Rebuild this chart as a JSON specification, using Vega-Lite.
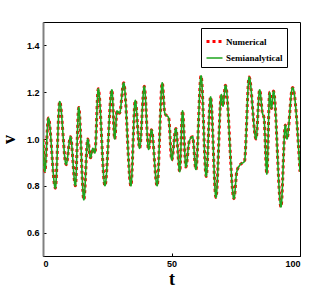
{
  "$schema": "https://vega.github.io/schema/vega-lite/v6.json",
  "width": 257,
  "height": 234,
  "autosize": "none",
  "padding": {"left": 43, "top": 22, "right": 31, "bottom": 34},
  "background": "white",
  "config": {
    "view": {"stroke": "black", "strokeWidth": 1},
    "axis": {
      "grid": false,
      "labelFont": "Liberation Sans",
      "labelFontWeight": "bold",
      "labelFontSize": 9,
      "labelColor": "black",
      "tickColor": "black",
      "tickSize": -3,
      "domainColor": "black",
      "titleFont": "Liberation Serif",
      "titleFontWeight": "bold",
      "titleColor": "black"
    }
  },
  "data": {
    "values": [
      {"t": 0, "Numerical": 1.0, "Semianalytical": 1.0},
      {"t": 0.7, "Numerical": 0.86, "Semianalytical": 0.86},
      {"t": 2.1, "Numerical": 1.09, "Semianalytical": 1.09},
      {"t": 4.8, "Numerical": 0.79, "Semianalytical": 0.79},
      {"t": 6.5, "Numerical": 1.16, "Semianalytical": 1.16},
      {"t": 9.0, "Numerical": 0.89, "Semianalytical": 0.89},
      {"t": 10.7, "Numerical": 1.01, "Semianalytical": 1.01},
      {"t": 12.6, "Numerical": 0.80, "Semianalytical": 0.80},
      {"t": 13.9, "Numerical": 1.135, "Semianalytical": 1.135},
      {"t": 15.9, "Numerical": 0.74, "Semianalytical": 0.74},
      {"t": 17.4, "Numerical": 1.0, "Semianalytical": 1.0},
      {"t": 18.5, "Numerical": 0.92, "Semianalytical": 0.92},
      {"t": 19.4, "Numerical": 0.96, "Semianalytical": 0.96},
      {"t": 20.2, "Numerical": 0.94, "Semianalytical": 0.94},
      {"t": 21.5, "Numerical": 1.215, "Semianalytical": 1.215},
      {"t": 24.1, "Numerical": 0.80, "Semianalytical": 0.80},
      {"t": 26.8, "Numerical": 1.21, "Semianalytical": 1.21},
      {"t": 27.9, "Numerical": 1.0, "Semianalytical": 1.0},
      {"t": 28.8, "Numerical": 1.12, "Semianalytical": 1.12},
      {"t": 29.8, "Numerical": 1.11, "Semianalytical": 1.11},
      {"t": 31.4, "Numerical": 1.24, "Semianalytical": 1.24},
      {"t": 34.2, "Numerical": 0.80, "Semianalytical": 0.80},
      {"t": 35.9, "Numerical": 1.165, "Semianalytical": 1.165},
      {"t": 37.6, "Numerical": 0.96, "Semianalytical": 0.96},
      {"t": 39.4, "Numerical": 1.225, "Semianalytical": 1.225},
      {"t": 41.1, "Numerical": 0.955, "Semianalytical": 0.955},
      {"t": 42.2, "Numerical": 1.04, "Semianalytical": 1.04},
      {"t": 44.4, "Numerical": 0.80, "Semianalytical": 0.80},
      {"t": 46.4, "Numerical": 1.24, "Semianalytical": 1.24},
      {"t": 47.4, "Numerical": 1.11, "Semianalytical": 1.11},
      {"t": 48.9, "Numerical": 1.09, "Semianalytical": 1.09},
      {"t": 50.1, "Numerical": 0.91, "Semianalytical": 0.91},
      {"t": 51.7, "Numerical": 1.045, "Semianalytical": 1.045},
      {"t": 53.2, "Numerical": 0.86, "Semianalytical": 0.86},
      {"t": 54.3, "Numerical": 1.12, "Semianalytical": 1.12},
      {"t": 55.6, "Numerical": 0.88, "Semianalytical": 0.88},
      {"t": 56.9, "Numerical": 0.99, "Semianalytical": 0.99},
      {"t": 58.2, "Numerical": 1.01, "Semianalytical": 1.01},
      {"t": 59.5, "Numerical": 0.87, "Semianalytical": 0.87},
      {"t": 61.5, "Numerical": 1.27, "Semianalytical": 1.27},
      {"t": 63.5, "Numerical": 0.84, "Semianalytical": 0.84},
      {"t": 65.2, "Numerical": 1.18, "Semianalytical": 1.18},
      {"t": 67.3, "Numerical": 0.75, "Semianalytical": 0.75},
      {"t": 69.4, "Numerical": 1.19, "Semianalytical": 1.19},
      {"t": 70.0, "Numerical": 1.14, "Semianalytical": 1.14},
      {"t": 71.0, "Numerical": 1.23, "Semianalytical": 1.23},
      {"t": 74.3, "Numerical": 0.745, "Semianalytical": 0.745},
      {"t": 75.4, "Numerical": 0.86, "Semianalytical": 0.86},
      {"t": 76.7, "Numerical": 0.89, "Semianalytical": 0.89},
      {"t": 78.4, "Numerical": 0.905, "Semianalytical": 0.905},
      {"t": 80.2, "Numerical": 1.265, "Semianalytical": 1.265},
      {"t": 82.9, "Numerical": 1.0, "Semianalytical": 1.0},
      {"t": 84.3, "Numerical": 1.21, "Semianalytical": 1.21},
      {"t": 85.4, "Numerical": 1.11, "Semianalytical": 1.11},
      {"t": 86.0, "Numerical": 1.09, "Semianalytical": 1.09},
      {"t": 87.1, "Numerical": 0.85, "Semianalytical": 0.85},
      {"t": 88.2, "Numerical": 1.2, "Semianalytical": 1.2},
      {"t": 88.9, "Numerical": 1.13, "Semianalytical": 1.13},
      {"t": 89.7, "Numerical": 1.205, "Semianalytical": 1.205},
      {"t": 92.6, "Numerical": 0.71, "Semianalytical": 0.71},
      {"t": 94.3, "Numerical": 1.06, "Semianalytical": 1.06},
      {"t": 94.9, "Numerical": 1.0, "Semianalytical": 1.0},
      {"t": 97.1, "Numerical": 1.22, "Semianalytical": 1.22},
      {"t": 100, "Numerical": 0.86, "Semianalytical": 0.86}
    ]
  },
  "transform": [{"fold": ["Numerical", "Semianalytical"], "as": ["series", "v"]}],
  "mark": {"type": "line", "interpolate": "monotone", "clip": true},
  "encoding": {
    "x": {
      "field": "t", "type": "quantitative",
      "scale": {"domain": [0, 100], "nice": false},
      "axis": {"values": [0, 50, 100], "title": "t", "titleFontSize": 18, "labelPadding": 6, "titlePadding": 2}
    },
    "y": {
      "field": "v", "type": "quantitative",
      "scale": {"domain": [0.5, 1.5], "nice": false},
      "axis": {"values": [0.6, 0.8, 1.0, 1.2, 1.4], "title": "v", "titleFontSize": 18, "labelPadding": 7, "titlePadding": 8, "domainColor": "#808080", "domainWidth": 2}
    },
    "color": {
      "field": "series", "type": "nominal",
      "scale": {"domain": ["Numerical", "Semianalytical"], "range": ["#ff0000", "#1fa51f"]},
      "legend": {
        "title": null,
        "orient": "none",
        "legendX": 158,
        "legendY": 6,
        "direction": "vertical",
        "strokeColor": "black",
        "fillColor": "white",
        "cornerRadius": 0,
        "padding": 4,
        "symbolType": "stroke",
        "symbolSize": 256,
        "symbolStrokeWidth": 2,
        "labelFont": "Liberation Serif",
        "labelFontWeight": "bold",
        "labelFontSize": 9,
        "labelColor": "black",
        "labelOffset": 2,
        "rowPadding": 1
      }
    },
    "strokeDash": {
      "field": "series", "type": "nominal",
      "scale": {"domain": ["Numerical", "Semianalytical"], "range": [[3, 3], [1, 0]]},
      "legend": null
    },
    "strokeWidth": {
      "field": "series", "type": "nominal",
      "scale": {"domain": ["Numerical", "Semianalytical"], "range": [3, 1.6]},
      "legend": null
    }
  }
}
